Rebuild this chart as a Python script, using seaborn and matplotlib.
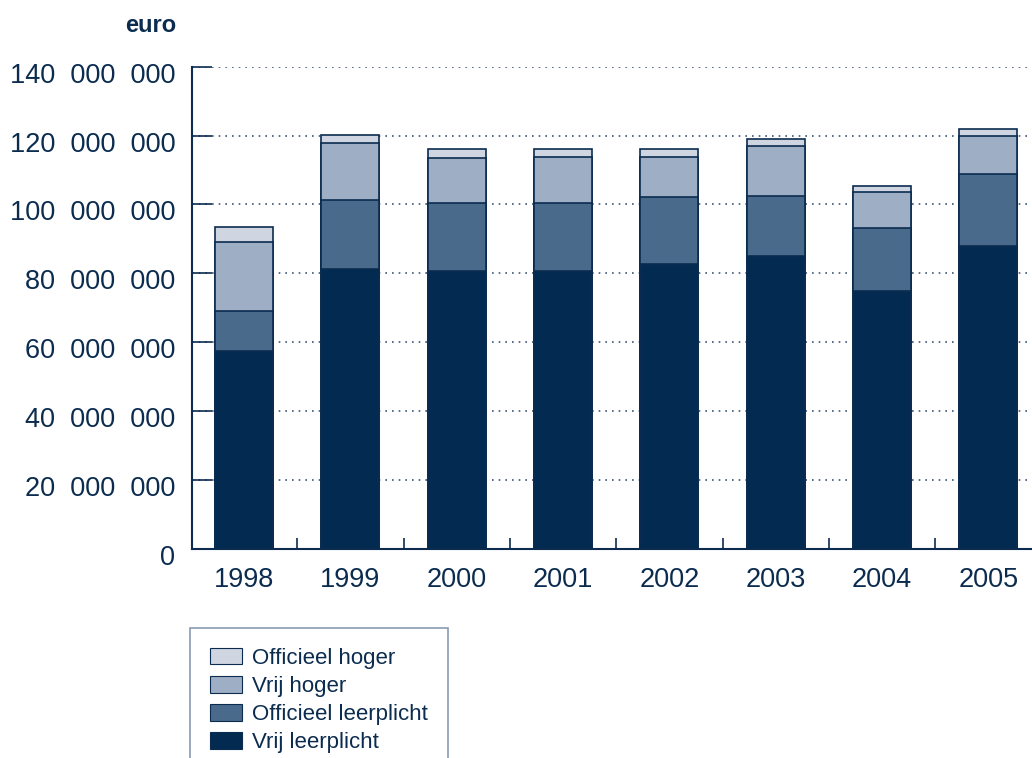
import numpy as np
import pandas as pd
import seaborn as sns
import matplotlib.pyplot as plt
from matplotlib.patches import Patch
from matplotlib.ticker import FixedLocator, FuncFormatter
from matplotlib.transforms import ScaledTranslation

# Gegevens (miljoen euro)
jaren = ['1998', '1999', '2000', '2001', '2002', '2003', '2004', '2005']
vrij_leerplicht = [57.5, 81.3, 80.8, 80.8, 82.6, 84.9, 75.0, 88.0]
officieel_leerplicht = [11.6, 20.0, 19.5, 19.5, 19.5, 17.6, 18.1, 20.8]
vrij_hoger = [19.9, 16.4, 13.1, 13.4, 11.7, 14.4, 10.5, 11.0]
officieel_hoger = [4.4, 2.6, 2.7, 2.4, 2.3, 2.1, 1.8, 2.0]

reeksen = ['Vrij leerplicht', 'Officieel leerplicht', 'Vrij hoger', 'Officieel hoger']
kleuren = ['#032a50', '#4a6a8c', '#9eaec4', '#d0d6e1']
navy = '#0b2c4f'

df = pd.DataFrame({
    'jaar': jaren,
    'Vrij leerplicht': np.array(vrij_leerplicht) * 1e6,
    'Officieel leerplicht': np.array(officieel_leerplicht) * 1e6,
    'Vrij hoger': np.array(vrij_hoger) * 1e6,
    'Officieel hoger': np.array(officieel_hoger) * 1e6,
})

# cumulatieve totalen om te stapelen
cum = df[reeksen].cumsum(axis=1)

sns.set_theme(style='white')
plt.rcParams['font.family'] = ['Liberation Sans', 'DejaVu Sans']

fig = plt.figure(figsize=(10.32, 7.58), dpi=100)
ax = fig.add_axes([0.186, 0.276, 0.814, 0.636])

# van groot naar klein tekenen zodat de stapels zichtbaar blijven
for naam, kleur in zip(reversed(reeksen), reversed(kleuren)):
    sns.barplot(x=df['jaar'], y=cum[naam], color=kleur, width=0.546,
                edgecolor=navy, linewidth=1.2, saturation=1, ax=ax, zorder=3)

ax.set_xlim(-0.49, 7.41)
ax.set_ylim(0, 140e6)
ax.set_xlabel('')
ax.set_ylabel('')

ax.yaxis.set_major_locator(FixedLocator(np.arange(0, 140e6 + 1, 20e6)))
ax.yaxis.set_major_formatter(FuncFormatter(lambda v, p: f'{int(v):,}'.replace(',', '\u2007')))
ax.tick_params(axis='y', direction='in', length=14.5, width=1.2, color=navy,
               labelsize=19.5, labelcolor=navy, pad=12, left=True)
ax.tick_params(axis='x', length=0, labelsize=19.5, labelcolor=navy, pad=13)
ax.xaxis.set_minor_locator(FixedLocator(np.arange(0.5, 7, 1)))
ax.tick_params(axis='x', which='minor', direction='in', length=8, width=1.2,
               color=navy, bottom=True)

# labels iets lager dan de streepjes, zoals in het origineel
for lab in ax.get_yticklabels():
    lab.set_transform(lab.get_transform() + ScaledTranslation(0, -0.06, fig.dpi_scale_trans))

ax.yaxis.grid(True, linestyle=(0, (1, 3)), color='#3d5877', linewidth=1.2, zorder=0)
ax.set_axisbelow(True)

for s in ['top', 'right']:
    ax.spines[s].set_visible(False)
for s in ['left', 'bottom']:
    ax.spines[s].set_color(navy)
    ax.spines[s].set_linewidth(1.5)

fig.text(0.171, 0.966, 'euro', ha='right', va='center', fontsize=17,
         fontweight='bold', color=navy, family=['Liberation Sans Narrow', 'Liberation Sans'])

handles = [Patch(facecolor=k, edgecolor=navy, linewidth=0.8, label=n)
           for n, k in zip(reversed(reeksen), reversed(kleuren))]
leg = fig.legend(handles=handles, loc='upper left',
                 bbox_to_anchor=(190 / 1032, 1 - 628 / 758), frameon=True,
                 fontsize=16, labelcolor=navy, handlelength=1.45, handleheight=0.75,
                 handletextpad=0.45, labelspacing=0.32, borderpad=0.9,
                 fancybox=False, borderaxespad=0)
leg.get_frame().set_edgecolor('#6b819c')
leg.get_frame().set_linewidth(1.2)

fig.savefig('out.png', dpi=100)
